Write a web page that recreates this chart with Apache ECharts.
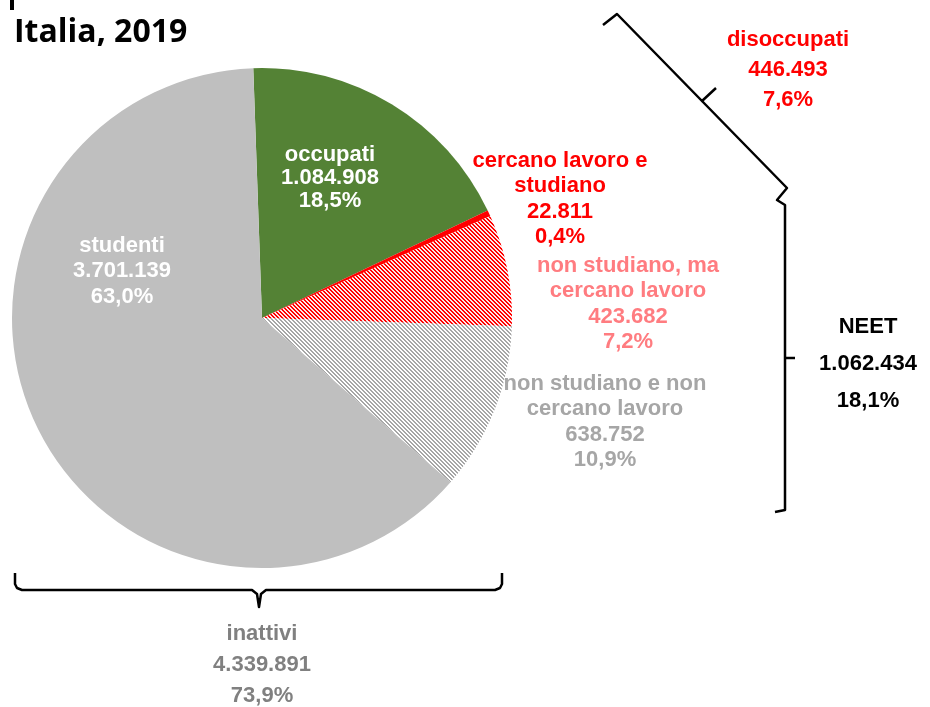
<!DOCTYPE html>
<html>
<head>
<meta charset="utf-8">
<script src="https://cdn.jsdelivr.net/npm/echarts@6/dist/echarts.min.js"></script>
<style>
  html, body { margin: 0; padding: 0; background: #fff; }
  #main { width: 930px; height: 707px; }
</style>
</head>
<body>
<div id="main"></div>
<script>
// dati (Italia, 2019)
var categories = ['occupati', 'cercano lavoro e\nstudiano', 'non studiano, ma\ncercano lavoro', 'non studiano e non\ncercano lavoro', 'studenti'];
var values = [1084908, 22811, 423682, 638752, 3701139];
var percents = ['18,5%', '0,4%', '7,2%', '10,9%', '63,0%'];

// gruppi (parentesi)
var groupNames = ['disoccupati', 'NEET', 'inattivi'];
var groupValues = [446493, 1062434, 4339891];
var groupPercents = ['7,6%', '18,1%', '73,9%'];

// posizioni etichette
var labelPos = [[330, 178], [560, 199], [628, 304], [605, 422], [122, 271]];
var labelColors = ['#ffffff', '#ff0000', '#ff7c80', '#a6a6a6', '#ffffff'];

function fmt(n) {
    return String(n).replace(/\B(?=(\d{3})+(?!\d))/g, '.');
}

// pattern a righe diagonali
function stripes(col, bg) {
    var c = document.createElement('canvas');
    c.width = 4; c.height = 4;
    var ctx = c.getContext('2d');
    ctx.fillStyle = bg;
    ctx.fillRect(0, 0, 4, 4);
    ctx.fillStyle = col;
    for (var y = 0; y < 4; y++) {
        ctx.fillRect(y, y, 1, 1);
        ctx.fillRect((y + 1) % 4, y, 1, 1);
    }
    return { image: c, repeat: 'repeat' };
}

var sliceColors = ['#548235', '#ff0000', stripes('#ff0000', '#ffe6e6'), stripes('#a6a6a6', '#ffffff'), '#bfbfbf'];

var data = values.map(function (v, i) {
    return {
        name: categories[i],
        value: v,
        itemStyle: { color: sliceColors[i] },
        label: { color: labelColors[i], lineHeight: i === 0 ? 23 : 25.5 }
    };
});

var font = 'Liberation Sans, Arial, sans-serif';

function groupText(i, x, y, color, lh) {
    return {
        type: 'text',
        x: x, y: y,
        style: {
            text: groupNames[i] + '\n' + fmt(groupValues[i]) + '\n' + groupPercents[i],
            fill: color,
            font: 'bold 22px ' + font,
            lineHeight: lh,
            align: 'center',
            verticalAlign: 'middle'
        }
    };
}

function brace(points) {
    return {
        type: 'polyline',
        shape: { points: points },
        style: { stroke: '#000', lineWidth: 2.5, fill: null, lineJoin: 'round' }
    };
}

var myChart = echarts.init(document.getElementById('main'));

var option = {
    backgroundColor: '#ffffff',
    animation: false,
    series: [{
        type: 'pie',
        center: [262, 318],
        radius: 250,
        startAngle: 92,
        clockwise: true,
        avoidLabelOverlap: false,
        itemStyle: { borderWidth: 0 },
        label: {
            show: true,
            position: 'outside',
            fontFamily: font,
            fontWeight: 'bold',
            fontSize: 22,
            align: 'center',
            formatter: function (p) {
                return p.name + '\n' + fmt(p.value) + '\n' + percents[p.dataIndex];
            }
        },
        labelLine: { show: false },
        labelLayout: function (p) {
            return {
                x: labelPos[p.dataIndex][0],
                y: labelPos[p.dataIndex][1],
                align: 'center',
                verticalAlign: 'middle'
            };
        },
        emphasis: { disabled: true },
        data: data
    }],
    graphic: [
        {
            type: 'text', x: 14, y: 33,
            style: { text: 'Italia, 2019', fill: '#000', font: 'bold 32px Open Sans, sans-serif', verticalAlign: 'middle' }
        },
        { type: 'rect', shape: { x: 10, y: 0, width: 4, height: 10 }, style: { fill: '#000' } },
        // parentesi disoccupati
        brace([[603, 25], [617, 14], [702, 101], [716, 88]]),
        brace([[702, 101], [787, 188], [777, 200], [785, 205], [785, 510], [775, 512]]),
        // parentesi NEET
        brace([[785, 358], [795, 358]]),
        // parentesi inattivi
        brace([[15, 573], [15, 584], [17, 588], [22, 590], [252, 590], [257, 594], [259, 607],
               [261, 594], [266, 590], [495, 590], [500, 588], [502, 584], [502, 573]]),
        groupText(0, 788, 70, '#ff0000', 30),
        groupText(1, 868, 364, '#000000', 37),
        groupText(2, 262, 665, '#808080', 31)
    ]
};

myChart.setOption(option);
</script>
</body>
</html>
